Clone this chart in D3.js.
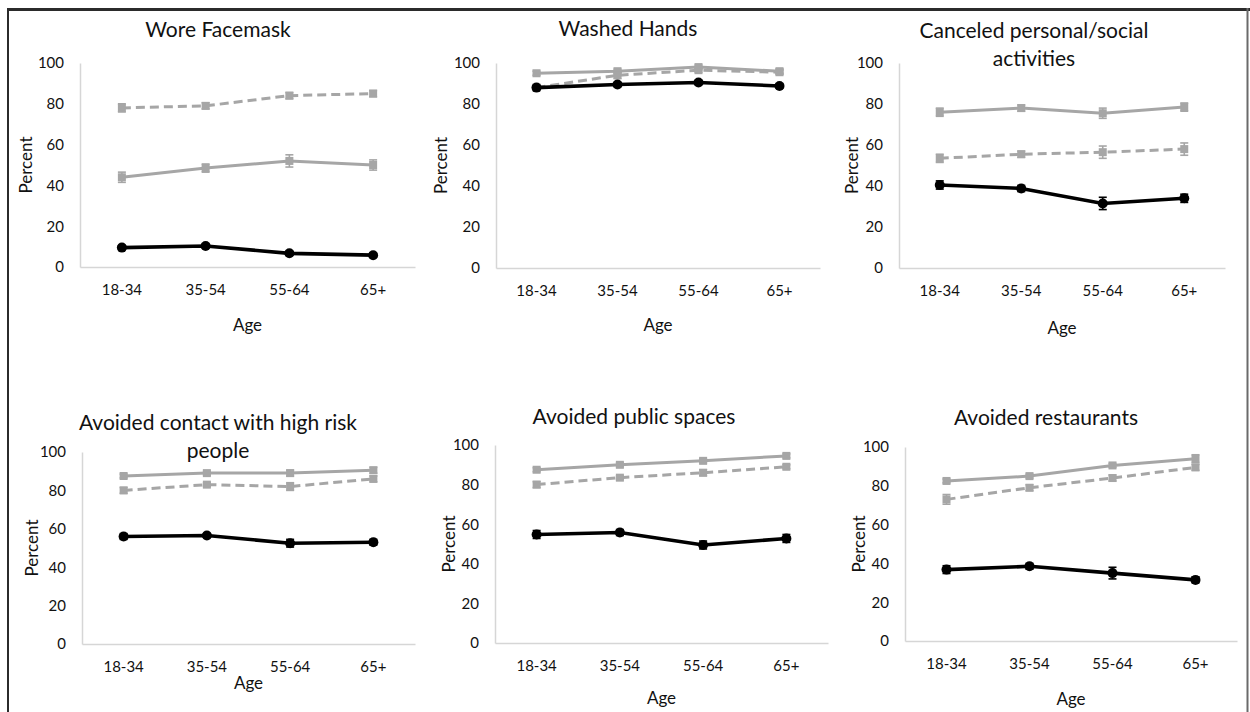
<!DOCTYPE html>
<html>
<head>
<meta charset="utf-8">
<script src="https://cdn.jsdelivr.net/npm/d3@7/dist/d3.min.js"></script>
<style>
  html, body { margin: 0; padding: 0; background: #ffffff; }
  svg { display: block; }
  text { font-family: Lato, "Open Sans", sans-serif; fill: #111; }
</style>
</head>
<body>
<svg id="chart" width="1250" height="712"></svg>
<script>
// ---------- data ----------
const ageGroups = ["18-34", "35-54", "55-64", "65+"];
const panelTitles = [
  ["Wore Facemask"],
  ["Washed Hands"],
  ["Canceled personal/social", "activities"],
  ["Avoided contact with high risk", "people"],
  ["Avoided public spaces"],
  ["Avoided restaurants"]
];
const yTicks = [0, 20, 40, 60, 80, 100];
const xAxisLabel = "Age";
const yAxisLabel = "Percent";

// solid light-gray series
const solidGray = [
  [44, 48.5, 52, 50],
  [95, 96, 98, 96],
  [76, 78, 75.5, 78.5],
  [87.5, 89, 89, 90.5],
  [87.5, 90, 92, 94.5],
  [82.5, 85, 90.5, 94]
];
const solidGrayErr = [
  [2.5, 2, 3, 2.5],
  [1, 1, 1, 1],
  [2, 1.5, 2.5, 2],
  [1, 1, 1.5, 1.5],
  [1, 1, 1, 1],
  [1, 1, 1, 2]
];
// dashed gray series
const dashedGray = [
  [78, 79, 84, 85],
  [88, 94, 96.5, 95.5],
  [53.5, 55.5, 56.5, 58],
  [80, 83, 82, 86],
  [80, 83.5, 86, 89],
  [73, 79, 84, 89.5]
];
const dashedGrayErr = [
  [2, 1.5, 1.5, 1.5],
  [1.5, 1.5, 1, 1],
  [2, 1.5, 3, 3],
  [1.5, 1, 2, 1.5],
  [1.5, 1, 1.5, 1],
  [2.5, 1.5, 1.5, 1.5]
];
// black series
const blackSeries = [
  [9.5, 10.3, 6.7, 5.8],
  [88, 89.5, 90.5, 88.8],
  [40.5, 38.8, 31.5, 34],
  [56, 56.5, 52.5, 53],
  [54.8, 55.8, 49.5, 52.8],
  [36.8, 38.5, 35, 31.5]
];
const blackErr = [
  [1, 1, 1, 1],
  [1, 1, 1, 1],
  [2, 1.5, 3, 2],
  [1.5, 1, 2, 1.5],
  [2, 1.5, 2, 2],
  [2, 1.5, 3, 1.5]
];

// ---------- layout ----------
const layout = [
  { x0: 80,  x1: 415,  yTop: 63,  yBot: 267, titleY: 37,  titleX: 218,  pctX: 27,  ageY: 331 },
  { x0: 496, x1: 820,  yTop: 63,  yBot: 268, titleY: 36,  titleX: 628,  pctX: 442, ageY: 331 },
  { x0: 899, x1: 1225, yTop: 63,  yBot: 268, titleY: 38,  titleX: 1034, pctX: 853, ageY: 334 },
  { x0: 82,  x1: 415,  yTop: 452, yBot: 644, titleY: 430, titleX: 218,  pctX: 33,  ageY: 689 },
  { x0: 495, x1: 828,  yTop: 445, yBot: 643, titleY: 424, titleX: 634,  pctX: 450, ageY: 704 },
  { x0: 905, x1: 1237, yTop: 447, yBot: 641, titleY: 425, titleX: 1046, pctX: 860, ageY: 705 }
];

const svg = d3.select("#chart");

// outer frame
svg.append("line").attr("x1", 7).attr("x2", 1250).attr("y1", 9.5).attr("y2", 9.5)
  .attr("stroke", "#2b2b2b").attr("stroke-width", 3);
svg.append("line").attr("x1", 8).attr("x2", 8).attr("y1", 8).attr("y2", 712)
  .attr("stroke", "#2b2b2b").attr("stroke-width", 2);
svg.append("line").attr("x1", 1247.5).attr("x2", 1247.5).attr("y1", 8).attr("y2", 712)
  .attr("stroke", "#6a6a6a").attr("stroke-width", 2);

const grayCol = "#a6a6a6";

layout.forEach((L, i) => {
  const g = svg.append("g");
  const x = d3.scaleBand().domain(ageGroups).range([L.x0, L.x1]);
  const y = d3.scaleLinear().domain([0, 100]).range([L.yBot, L.yTop]);
  const cx = d => x(d) + x.bandwidth() / 2;

  // axes
  const yAxis = d3.axisLeft(y).tickValues(yTicks).tickSize(0).tickPadding(16);
  const ya = g.append("g").attr("transform", `translate(${L.x0},0)`).call(yAxis);
  ya.select(".domain").attr("stroke", "#d6d6d6").attr("stroke-width", 1.5);
  ya.selectAll("text").style("font-size", "15px").attr("fill", "#1a1a1a");

  const xAxis = d3.axisBottom(x).tickSize(0).tickPadding(17);
  const xa = g.append("g").attr("transform", `translate(0,${L.yBot})`).call(xAxis);
  xa.select(".domain").attr("stroke", "#d6d6d6").attr("stroke-width", 1.5);
  xa.selectAll("text").style("font-size", "15px").attr("fill", "#1a1a1a");

  // titles
  const t = g.append("text").attr("text-anchor", "middle")
    .attr("x", L.titleX).attr("y", L.titleY)
    .style("font-size", "21px").attr("fill", "#0d0d0d");
  panelTitles[i].forEach((line, k) => {
    t.append("tspan").attr("x", L.titleX).attr("dy", k === 0 ? 0 : 28).text(line);
  });

  // axis labels
  g.append("text").attr("text-anchor", "middle")
    .attr("transform", `translate(${L.pctX + 5},${(L.yTop + L.yBot) / 2}) rotate(-90)`)
    .style("font-size", "17px").text(yAxisLabel);
  g.append("text").attr("text-anchor", "middle")
    .attr("x", (L.x0 + L.x1) / 2).attr("y", L.ageY)
    .style("font-size", "17px").text(xAxisLabel);

  const line = d3.line().x(d => cx(d.a)).y(d => y(d.v));
  const mk = (vals, errs) => ageGroups.map((a, k) => ({ a, v: vals[k], e: errs[k] }));

  const series = [
    { data: mk(solidGray[i], solidGrayErr[i]), color: grayCol, width: 3, dash: null, marker: "square" },
    { data: mk(dashedGray[i], dashedGrayErr[i]), color: grayCol, width: 3, dash: "9,5", marker: "square" },
    { data: mk(blackSeries[i], blackErr[i]), color: "#000", width: 3.6, dash: null, marker: "circle" }
  ];

  series.forEach(s => {
    g.append("path").datum(s.data).attr("d", line)
      .attr("fill", "none").attr("stroke", s.color).attr("stroke-width", s.width)
      .attr("stroke-dasharray", s.dash);
    // error bars
    const eb = g.append("g").attr("stroke", s.color).attr("stroke-width", 1.6);
    s.data.forEach(d => {
      eb.append("line").attr("x1", cx(d.a)).attr("x2", cx(d.a))
        .attr("y1", y(d.v - d.e)).attr("y2", y(d.v + d.e));
      [d.v - d.e, d.v + d.e].forEach(v => {
        eb.append("line").attr("x1", cx(d.a) - 4).attr("x2", cx(d.a) + 4)
          .attr("y1", y(v)).attr("y2", y(v));
      });
    });
    if (s.marker === "circle") {
      g.selectAll(null).data(s.data).enter().append("circle")
        .attr("cx", d => cx(d.a)).attr("cy", d => y(d.v)).attr("r", 5)
        .attr("fill", s.color);
    } else {
      g.selectAll(null).data(s.data).enter().append("rect")
        .attr("x", d => cx(d.a) - 4).attr("y", d => y(d.v) - 4)
        .attr("width", 8).attr("height", 8).attr("fill", s.color);
    }
  });
});
</script>
</body>
</html>
